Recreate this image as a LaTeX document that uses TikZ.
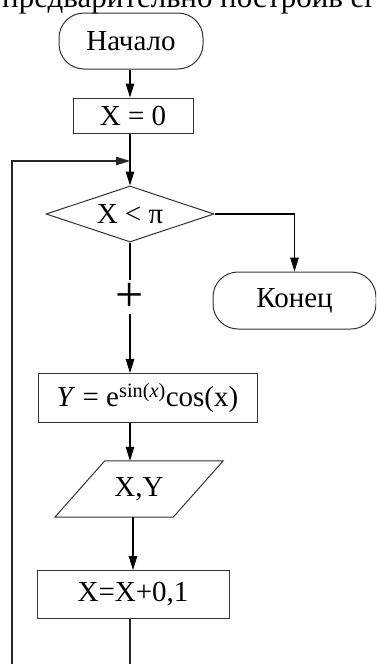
\documentclass[tikz,border=0pt]{standalone}
\usepackage{fontspec}
\setmainfont{Liberation Serif}
\usetikzlibrary{arrows.meta,shapes.geometric,calc}
\newcommand\lblfont{\fontsize{29}{31}\selectfont}
\newcommand\topfont{\fontsize{31}{33}\selectfont}
\begin{document}
\begin{tikzpicture}[x=1pt,y=-1pt,
  boxline/.style={draw=black!80, line width=1pt},
  blk/.style={boxline, inner sep=0pt, font=\lblfont},
  term/.style={blk, rounded corners=25pt},
  ln/.style={line width=1.3pt, black},
  arr/.style={ln, -{Triangle[length=14pt,width=8.5pt]}},
  loopln/.style={line width=1.1pt, black!85, -{Triangle[length=14pt,width=8.5pt]}}
]
\useasboundingbox (0,0) rectangle (376,664);
\clip (0,0) rectangle (376,664);
\coordinate (ax) at (130,0);
\node[anchor=base west, inner sep=0pt, font=\topfont] (head) at (2,7) {предварительно построив его};
\node[term, minimum width=144pt, minimum height=56pt] (start) at (131,41) {Начало};
\node[blk, minimum width=120pt, minimum height=35pt] (init) at (133,115.5) {X = 0};
\coordinate (j) at (130,161);
\node[blk, diamond, aspect=3, minimum width=168pt, minimum height=56pt] (cond) at (130,214) {X < π};
\node[term, minimum width=163pt, minimum height=57pt] (end) at (294.5,300.5) {Конец};
\node[inner sep=3pt, font=\fontsize{50}{50}\selectfont] (plus) at (130,297) {+};
\node[blk, minimum width=219pt, minimum height=49pt] (calc) at (147.5,398) {\textit{Y} = e\textsuperscript{sin(\textit{x})}cos(x)};
\node[inner sep=0pt, font=\lblfont, minimum width=118pt, minimum height=56pt] (io) at (139,489) {X,Y};
\draw[boxline] ($(io.north west)+(25,0)$) -- ($(io.north east)+(25,0)$) -- ($(io.south east)+(-25,0)$) -- ($(io.south west)+(-25,0)$) -- cycle;
\node[blk, minimum width=192pt, minimum height=48pt] (incr) at (133,594.5) {X=X+0,1};
\coordinate (lb) at (12,690);
\draw[arr] (start.south -| ax) -- (init.north -| ax);
\draw[arr] (init.south -| ax) -- (cond.north);
\draw[arr] (cond.east) -| (end.north);
\draw[ln] (cond.south) -- (plus.north);
\draw[arr] (plus.south) -- (calc.north -| ax);
\draw[arr] (calc.south -| ax) -- (io.north -| ax);
\draw[arr] (io.south -| incr) -- (incr.north);
\draw[loopln] (incr.south -| ax) |- (lb) |- (j);
\end{tikzpicture}
\end{document}
